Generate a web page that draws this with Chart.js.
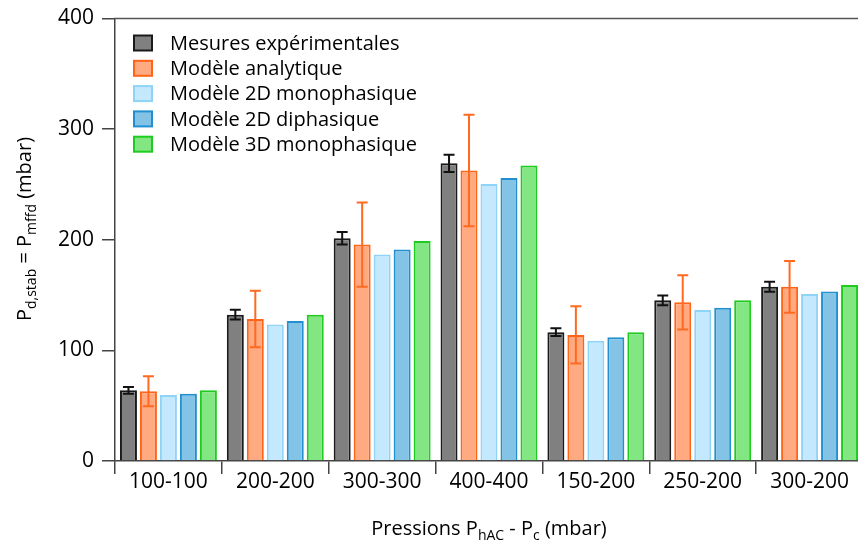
<!DOCTYPE html>
<html>
<head>
<meta charset="utf-8">
<script src="https://cdn.jsdelivr.net/npm/chart.js@4.4.1/dist/chart.umd.min.js"></script>
<style>
  html, body { margin: 0; padding: 0; background: #fff; overflow: hidden; }
  #wrap { width: 880px; height: 543px; }
</style>
</head>
<body>
<div id="wrap"><canvas id="chart-bars" width="880" height="543"></canvas></div>
<script>
const categories = ['100-100', '200-200', '300-300', '400-400', '150-200', '250-200', '300-200'];
const seriesNames = [
  'Mesures expérimentales',
  'Modèle analytique',
  'Modèle 2D monophasique',
  'Modèle 2D diphasique',
  'Modèle 3D monophasique',
];
const mesures = [63.9, 132.3, 201.4, 269.1, 116.4, 145.2, 157.5];
const analytique = [63.0, 128.4, 195.6, 262.6, 114.0, 143.4, 157.5];
const mono2D = [59.7, 123.3, 186.6, 250.5, 108.6, 136.5, 150.9];
const diph2D = [60.9, 126.6, 191.1, 255.9, 111.9, 138.6, 153.3];
const mono3D = [63.9, 132.3, 198.9, 267.1, 116.4, 145.2, 159.0];
const mesuresErr = [3, 4.5, 5.7, 7.8, 3.5, 4.5, 4.5];
const analytiqueErr = [13.5, 25.6, 38, 50.3, 25.8, 24.5, 23.4];
const yTicks = [0, 100, 200, 300, 400];

const FONT = "'Open Sans', 'DejaVu Sans', sans-serif";
const fills = ['#808080', '#ffaa80', '#c4e9fe', '#82c3e6', '#82e682'];
const borders = ['#1a1a1a', '#ff6418', '#8fd3f7', '#2290d0', '#1ecb1e'];

// error bars on the measured and analytic series
const errorBars = {
  id: 'errorBars',
  afterDatasetsDraw(chart) {
    const { ctx, scales: { y } } = chart;
    const specs = [
      { index: 0, errs: mesuresErr, color: '#111111' },
      { index: 1, errs: analytiqueErr, color: '#ff6a20' },
    ];
    ctx.save();
    ctx.lineWidth = 2;
    specs.forEach(({ index, errs, color }) => {
      const meta = chart.getDatasetMeta(index);
      const values = chart.data.datasets[index].data;
      ctx.strokeStyle = color;
      meta.data.forEach((bar, i) => {
        const top = y.getPixelForValue(values[i] + errs[i]);
        const bot = y.getPixelForValue(values[i] - errs[i]);
        ctx.beginPath();
        ctx.moveTo(bar.x, top); ctx.lineTo(bar.x, bot);
        ctx.moveTo(bar.x - 5.5, top); ctx.lineTo(bar.x + 5.5, top);
        ctx.moveTo(bar.x - 5.5, bot); ctx.lineTo(bar.x + 5.5, bot);
        ctx.stroke();
      });
    });
    ctx.restore();
  },
};

const drawRich = (ctx, parts, x, y) => {
  const big = `20px ${FONT}`;
  const small = `14px ${FONT}`;
  const widths = parts.map((p) => { ctx.font = p.sub ? small : big; return ctx.measureText(p.t).width; });
  let cx = x - widths.reduce((a, b) => a + b, 0) / 2;
  parts.forEach((p, i) => {
    ctx.font = p.sub ? small : big;
    ctx.fillText(p.t, cx, p.sub ? y + 5 : y);
    cx += widths[i];
  });
};

// frame line, axis titles with subscripts, legend inside the plot
const decorations = {
  id: 'decorations',
  afterDraw(chart) {
    const { ctx, chartArea } = chart;
    ctx.save();
    ctx.strokeStyle = '#555555';
    ctx.lineWidth = 1.5;
    ctx.beginPath();
    ctx.moveTo(chartArea.left - 1, chartArea.top);
    ctx.lineTo(chart.width, chartArea.top);
    ctx.stroke();

    ctx.fillStyle = '#000';
    ctx.textBaseline = 'alphabetic';
    ctx.textAlign = 'left';
    drawRich(ctx, [
      { t: 'Pressions P' }, { t: 'hAC', sub: true }, { t: ' - P' }, { t: 'c', sub: true }, { t: ' (mbar)' },
    ], 489, 535);

    ctx.save();
    ctx.translate(31, 229);
    ctx.rotate(-Math.PI / 2);
    drawRich(ctx, [
      { t: 'P' }, { t: 'd,stab', sub: true }, { t: ' = P' }, { t: 'mffd', sub: true }, { t: ' (mbar)' },
    ], 0, 0);
    ctx.restore();

    ctx.font = `20px ${FONT}`;
    ctx.textBaseline = 'middle';
    chart.data.datasets.forEach((ds, i) => {
      const cy = 43 + i * 25.3;
      ctx.fillStyle = ds.backgroundColor;
      ctx.fillRect(134, cy - 7.5, 18, 15);
      ctx.strokeStyle = ds.borderColor;
      ctx.lineWidth = 2;
      ctx.strokeRect(134, cy - 7.5, 18, 15);
      ctx.fillStyle = '#000';
      ctx.fillText(ds.label, 170, cy + 1);
    });
    ctx.restore();
  },
};

const seriesData = [mesures, analytique, mono2D, diph2D, mono3D];
const ctx = document.getElementById('chart-bars').getContext('2d');
new Chart(ctx, {
  type: 'bar',
  data: {
    labels: categories,
    datasets: seriesData.map((values, i) => ({
      label: seriesNames[i],
      data: values,
      backgroundColor: fills[i],
      borderColor: borders[i],
      borderWidth: 2,
      categoryPercentage: 0.935,
      barPercentage: 0.85,
    })),
  },
  options: {
    responsive: false,
    animation: false,
    devicePixelRatio: 1,
    layout: { padding: { left: 0, right: 17, top: 17, bottom: 0 } },
    plugins: { legend: { display: false }, tooltip: { enabled: false } },
    scales: {
      x: {
        grid: { display: true, offset: true, drawOnChartArea: false, tickLength: 13, color: '#444', lineWidth: 1.5 },
        border: { display: true, color: '#444', width: 1.5 },
        ticks: { color: '#000', font: { family: FONT, size: 21 }, padding: -5, maxRotation: 0 },
        afterFit: (scale) => { scale.height = 82; },
      },
      y: {
        min: 0,
        max: 400,
        afterBuildTicks: (scale) => { scale.ticks = yTicks.map((value) => ({ value })); },
        grid: { display: true, drawOnChartArea: false, tickLength: 13, color: '#444', lineWidth: 1.5 },
        border: { display: true, color: '#444', width: 1.5 },
        ticks: { color: '#000', font: { family: FONT, size: 21, lineHeight: 1 }, padding: 8 },
        afterFit: (scale) => { scale.width = 115; },
      },
    },
  },
  plugins: [errorBars, decorations],
});
</script>
</body>
</html>
